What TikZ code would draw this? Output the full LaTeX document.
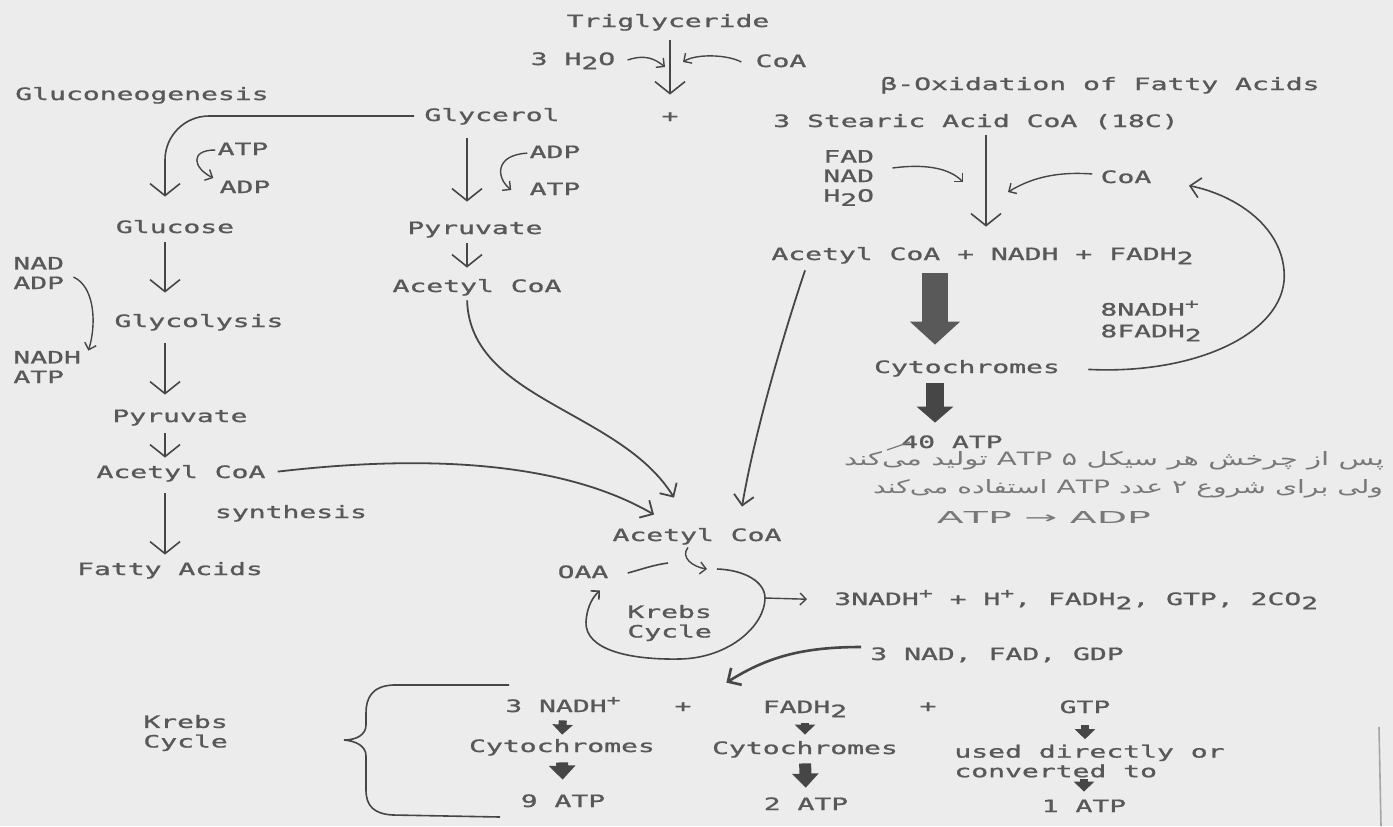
\documentclass[tikz,border=0pt]{standalone}
\usepackage{fontspec}
\usepackage{graphicx}
\usetikzlibrary{arrows.meta}
\newfontfamily\typew{DejaVu Sans Mono}[FakeStretch=1.65,FakeBold=1.2]
\newfontfamily\farsi[Script=Arabic]{DejaVu Sans}
\TeXXeTstate=1
\definecolor{paper}{RGB}{236,236,236}
\definecolor{ink}{RGB}{88,88,88}
\definecolor{pen}{RGB}{70,70,70}
\definecolor{handc}{RGB}{120,120,120}
\newcommand\dn[1]{\raisebox{-0.45ex}{#1}}
\newcommand\up[1]{\raisebox{0.75ex}{\scriptsize #1}}
\tikzset{
  lbl/.style={inner sep=0pt, text=ink, font=\typew\fontsize{8.5}{9.8}\selectfont, text height=7pt, text depth=2pt},
  lbls/.style={inner sep=0pt, text=ink, font=\typew\fontsize{8.5}{9.8}\selectfont, align=left},
  handw/.style={inner sep=0pt, text=handc},
  ln/.style={draw=pen, line width=0.8pt},
  arr/.style={draw=pen, line width=0.8pt, -{Straight Barb[length=6pt,width=15pt]}},
  sarr/.style={draw=pen, line width=0.7pt, -{Straight Barb[length=3pt,width=6pt]}},
  carr/.style={draw=pen, line width=0.9pt, -{Straight Barb[length=5pt,width=10pt]}},
  blkA/.style={draw=pen!90, line width=13pt, -{Triangle[length=11.5pt,width=24.5pt]}},
  blkB/.style={draw=pen, line width=9pt, -{Triangle[length=8pt,width=18pt]}},
  blkS/.style={draw=pen, line width=4pt, -{Triangle[length=5pt,width=10pt]}},
  blkM/.style={draw=pen, line width=6pt, -{Triangle[length=7pt,width=13pt]}}
}
\begin{document}
\begin{tikzpicture}[x=0.5pt,y=-0.5pt]
  % paper
  \fill[paper] (0,0) rectangle (1393,826);
  \useasboundingbox (0,0) rectangle (1393,826);
  \coordinate (colL) at (165,0);
  \coordinate (colM) at (467,0);
  \coordinate (colR) at (986,0);
  \coordinate (colB) at (935,0);

  % triglyceride
  \node[lbl] (trig) at (668,22) {Triglyceride};
  \node[lbl] (h2o) at (573,60) {3 H\dn{2}O};
  \node[lbl] (coaT) at (781,62) {CoA};
  \node[lbl] (plus) at (670,117) {+};
  \coordinate (tmid) at (plus |- h2o);
  \draw[arr, shorten <=4.5pt, shorten >=6.5pt] (trig.south -| plus) -- (plus.north);
  \draw[sarr] ([xshift=6pt]h2o.east) .. controls +(18,-6) and +(-10,-8) .. ([shift={(-2.5pt,-3.5pt)}]tmid);
  \draw[sarr] ([xshift=-7pt]coaT.west) .. controls +(-15,-8) and +(12,-8) .. ([shift={(6.5pt,-1pt)}]tmid);

  % gluconeogenesis / glycolysis
  \node[lbl] (gluconeo) at (142,95) {Gluconeogenesis};
  \node[lbl] (glycerol) at (492,116) {Glycerol};
  \node[lbl] (atpA) at (243,150) {ATP};
  \node[lbl] (adpA) at (245,188) {ADP};
  \node[lbl] (adpB) at (555,153) {ADP};
  \node[lbl] (atpB) at (555,190) {ATP};
  \node[lbl] (glucose) at (175,228) {Glucose};
  \node[lbl] (pyrM) at (475,229) {Pyruvate};
  \node[lbl] (acoaM) at (477,287) {Acetyl CoA};
  \node[lbl] (glycolysis) at (199,322) {Glycolysis};
  \node[lbl] (pyrL) at (180,417) {Pyruvate};
  \node[lbl] (acoaL) at (181,473) {Acetyl CoA};
  \node[lbl] (synth) at (291,513) {synthesis};
  \node[lbl] (fatty) at (170,570) {Fatty Acids};
  \node[lbls, anchor=west] (nadIn) at (13,273) {NAD\\ADP};
  \node[lbls, anchor=west] (nadOut) at (13,367) {NADH\\ATP};

  \draw[arr, rounded corners=22pt, shorten <=5pt, shorten >=11pt] (glycerol.west) -| (glucose.north -| colL);
  \draw[sarr, shorten <=1pt] (atpA.west) .. controls +(-28,0) and +(-20,-10) .. ([shift={(-3pt,5pt)}]adpA.west);
  \draw[sarr, shorten <=1pt] (adpB.west) .. controls +(-35,2) and +(-15,-12) .. ([xshift=-9pt]atpB.west);
  \draw[arr, shorten <=2.5pt, shorten >=10pt] (glucose.south -| colL) -- (glycolysis.north -| colL);
  \draw[arr, shorten <=6pt, shorten >=6.5pt] (glycolysis.south -| colL) -- (pyrL.north -| colL);
  \draw[arr, shorten <=3.5pt, shorten >=3pt] (pyrL.south -| colL) -- (acoaL.north -| colL);
  \draw[arr, shorten <=5.5pt, shorten >=3pt] (acoaL.south -| colL) -- (fatty.north -| colL);
  \draw[arr, shorten <=6.5pt, shorten >=9pt] (glycerol.south -| colM) -- (pyrM.north -| colM);
  \draw[arr, shorten <=2.5pt, shorten >=5pt] (pyrM.south -| colM) -- (acoaM.north -| colM);
  \draw[sarr] ([shift={(4.5pt,-2pt)}]nadIn.east) .. controls +(22,10) and +(8,-25) .. ([xshift=3.5pt]nadOut.north east);

  % beta oxidation
  \node[lbl] (betaox) at (1100,85) {β-Oxidation of Fatty Acids};
  \node[lbl] (stearic) at (976,122) {3 Stearic Acid CoA (18C)};
  \node[lbls, anchor=west] (fadIn) at (823,178) {FAD\\NAD\\H\dn{2}O};
  \node[lbl] (coaR) at (1126,178) {CoA};
  \node[lbl, anchor=west] (acetyl2) at (771,255) {Acetyl CoA + NADH + FADH\dn{2}};
  \node[lbls, anchor=west] (nadh8) at (1100,321) {8NADH\up{+}\\[1pt]8FADH\dn{2}};
  \node[lbl] (cyto1) at (967,368) {Cytochromes};
  \node[lbl] (atp40) at (952,443) {40 ATP};
  \coordinate (joinA) at (colR |- fadIn);
  \coordinate (joinB) at (colR |- coaR);

  \draw[arr, shorten <=2pt, shorten >=9.5pt] (stearic.south -| colR) -- (acetyl2.north -| colR);
  \draw[sarr] ([shift={(9pt,5pt)}]fadIn.east) .. controls +(30,-4) and +(-15,-15) .. ([shift={(-11.5pt,-2pt)}]joinA);
  \draw[sarr] ([shift={(-4pt,2pt)}]coaR.west) .. controls +(-40,-3) and +(20,-12) .. ([shift={(11pt,-7pt)}]joinB);
  \draw[blkA, shorten <=4.5pt, shorten >=7pt] (acetyl2.south -| colB) -- (cyto1.north -| colB);
  \draw[blkB, shorten <=3pt, shorten >=5.5pt] (cyto1.south -| colB) -- (atp40.north -| colB);
  \draw[carr, line width=0.8pt, shorten <=14pt, shorten >=19pt] (cyto1.east) .. controls (1200,375) and (1290,330) .. (1284,270) .. controls (1280,225) and (1235,195) .. (coaR.east);

  % note
  \draw[draw=handc, line width=0.6pt] ([shift={(-7pt,-3.5pt)}]atp40.west) -- ([shift={(4.5pt,0.5pt)}]atp40.west);
  \node[handw] (fa1) at (1114,461) {\resizebox{270pt}{7pt}{\farsi\beginR پس از چرخش هر سیکل ۵ \beginL ATP\endL{} تولید می‌کند\endR}};
  \node[handw] (fa2) at (1128,489) {\resizebox{255pt}{7pt}{\farsi\beginR ولی برای شروع ۲ عدد \beginL ATP\endL{} استفاده می‌کند\endR}};
  \node[handw] (fa3) at (1044,517) {\resizebox{107pt}{6pt}{\farsi ATP → ADP}};

  % krebs cycle
  \node[lbl] (acoaK) at (697,536) {Acetyl CoA};
  \node[lbl] (oaa) at (583,573) {OAA};
  \node[lbls, anchor=west] (krebs) at (627,623) {Krebs\\Cycle};
  \node[lbl, anchor=west] (products) at (834,600) {3NADH\up{+} + H\up{+}, FADH\dn{2}, GTP, 2CO\dn{2}};
  \node[lbl, anchor=west] (regen) at (870,655) {3 NAD, FAD, GDP};
  \coordinate (cycT) at (717,569);
  \coordinate (cycR) at (765,598);

  \draw[carr, shorten <=6pt] (acoaL.east) .. controls (420,455) and (560,460) .. ([shift={(-21.5pt,6pt)}]acoaK.north);
  \draw[carr, shorten <=2pt] (acoaM.south -| colM) .. controls (470,400) and (620,410) .. ([shift={(-11.5pt,14.5pt)}]acoaK.north);
  \draw[carr] ([shift={(17pt,-3pt)}]acetyl2.south west) .. controls (785,330) and (755,430) .. ([shift={(22.5pt,10pt)}]acoaK.north);
  \draw[sarr] ([shift={(-4.5pt,-1pt)}]acoaK.south) .. controls +(-8,10) and +(-14,-2) .. ([xshift=-5pt]cycT);
  \draw[ln] ([xshift=9.5pt]oaa.east) .. controls +(15,-4) and +(-15,2) .. ([shift={(-24.5pt,3pt)}]cycT);
  \draw[sarr, line width=0.8pt] (cycT) .. controls (745,570) and (765,582) .. (cycR) .. controls (765,625) and (730,658) .. (680,659) .. controls (630,660) and (585,650) .. (586,622) .. controls (587,605) and (594,596) .. ([shift={(8.5pt,-4pt)}]oaa.south);
  \draw[sarr, shorten >=13.5pt] (cycR) -- (products.west);

  % yield per turn
  \node[lbls, anchor=west] (krebsL) at (143,733) {Krebs\\Cycle};
  \node[lbl] (nadh3) at (563,707) {3 NADH\up{+}};
  \node[lbl] (plusA) at (683,707) {+};
  \node[lbl] (fadh2) at (805,708) {FADH\dn{2}};
  \node[lbl] (plusB) at (928,707) {+};
  \node[lbl] (gtp) at (1085,708) {GTP};
  \node[lbl] (cytoA) at (562,747) {Cytochromes};
  \node[lbl] (cytoB) at (805,749) {Cytochromes};
  \node[lbls, anchor=west] (useddir) at (954,761) {used directly or\\converted to};
  \node[lbl] (atp9) at (563,802) {9 ATP};
  \node[lbl] (atp2) at (806,805) {2 ATP};
  \node[lbl] (atp1) at (1084,807) {1 ATP};

  \draw[carr, line width=1.3pt] ([shift={(-4.5pt,4pt)}]regen.west) .. controls +(-60,0) and +(40,-25) .. ([shift={(-18pt,8pt)}]fadh2.north west);
  \draw[blkS, shorten <=2pt, shorten >=1.5pt] (nadh3.south) -- (cytoA.north);
  \draw[blkM, shorten <=3pt, shorten >=6.5pt] (cytoA.south) -- (atp9.north);
  \draw[blkS, shorten <=3pt, shorten >=2.5pt] (fadh2.south -| cytoB) -- (cytoB.north);
  \draw[blkM, shorten <=2.5pt, shorten >=4pt] (cytoB.south) -- (atp2.north);
  \draw[blkS, shorten <=4pt, shorten >=2.5pt] (gtp.south) -- (useddir.north -| gtp);
  \draw[blkS, shorten <=0.5pt, shorten >=3pt] (useddir.south -| atp1) -- (atp1.north);

  % brace
  \draw[ln] (509,685) -- (393,685) .. controls (372,686) and (366,698) .. (366,713) -- (366,725) .. controls (366,735) and (356,740) .. (344,740) .. controls (356,741) and (366,746) .. (366,756) -- (366,790) .. controls (366,806) and (374,814) .. (393,815) -- (500,817);
  % page edge
  \draw[black!35, line width=0.8pt] (1379,727) -- (1381,826);
\end{tikzpicture}
\end{document}
